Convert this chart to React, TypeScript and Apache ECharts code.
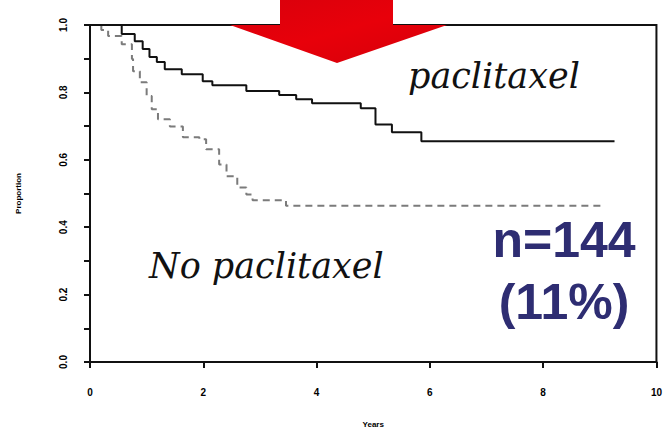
import React, { useEffect, useRef } from "react";
import * as echarts from "echarts";

// Kaplan–Meier step points: time in years, proportion surviving from that time on
const paclitaxelYears = [0, 0.56, 0.79, 0.93, 1.05, 1.18, 1.32, 1.62, 1.99, 2.16, 2.76, 3.34, 3.64, 3.92, 4.78, 5.04, 5.33, 5.85, 9.26];
const paclitaxelProp = [1.0, 0.973, 0.952, 0.929, 0.905, 0.89, 0.869, 0.854, 0.833, 0.821, 0.804, 0.792, 0.78, 0.768, 0.753, 0.705, 0.682, 0.655, 0.655];

const noPaclitaxelYears = [0, 0.2, 0.32, 0.56, 0.74, 0.76, 0.88, 1.0, 1.09, 1.2, 1.41, 1.64, 1.93, 2.05, 2.28, 2.41, 2.6, 2.76, 2.87, 3.46, 9.05];
const noPaclitaxelProp = [1.0, 0.985, 0.967, 0.943, 0.899, 0.863, 0.83, 0.789, 0.75, 0.72, 0.699, 0.667, 0.661, 0.631, 0.586, 0.551, 0.518, 0.497, 0.48, 0.464, 0.464];

const xTicks = [0, 2, 4, 6, 8, 10];
const yTicks = [0, 0.2, 0.4, 0.6, 0.8, 1.0];

const curveLabels = ["paclitaxel", "No paclitaxel"];
const countLines = ["n=144", "(11%)"];

const pairs = (xs: number[], ys: number[]) => xs.map((x, i) => [x, ys[i]]);

export default function App() {
  const ref = useRef<HTMLDivElement>(null);

  useEffect(() => {
    if (!ref.current) return;
    const chart = echarts.init(ref.current, null, { renderer: "svg" });
    const tickFont = {
      fontFamily: "Liberation Sans, Arial, sans-serif",
      fontWeight: "bold" as const,
      fontSize: 10,
      color: "#000",
    };
    chart.setOption({
      animation: false,
      backgroundColor: "#ffffff",
      grid: {
        left: 90,
        right: 5,
        top: 25,
        bottom: 71,
        show: true,
        borderColor: "#111",
        borderWidth: 2,
      },
      xAxis: {
        type: "value",
        min: xTicks[0],
        max: xTicks[xTicks.length - 1],
        interval: 2,
        name: "Years",
        nameLocation: "middle",
        nameGap: 58,
        nameTextStyle: { ...tickFont, fontSize: 8 },
        axisLine: { show: true, onZero: false, lineStyle: { color: "#111", width: 2 } },
        axisTick: { show: true, length: 6, lineStyle: { color: "#111", width: 2 } },
        axisLabel: { ...tickFont, margin: 25, formatter: (v: number) => String(v) },
        splitLine: { show: false },
      },
      yAxis: {
        type: "value",
        min: yTicks[0],
        max: yTicks[yTicks.length - 1],
        interval: 0.2,
        name: "Proportion",
        nameLocation: "middle",
        nameGap: 68,
        nameRotate: 90,
        nameTextStyle: { ...tickFont, fontSize: 8 },
        axisLine: { show: true, onZero: false, lineStyle: { color: "#111", width: 2 } },
        axisTick: { show: true, length: 6, lineStyle: { color: "#111", width: 2 } },
        minorTick: { show: true, splitNumber: 2, length: 6, lineStyle: { color: "#111", width: 2 } },
        axisLabel: {
          ...tickFont,
          rotate: 90,
          margin: 22,
          formatter: (v: number) => v.toFixed(1),
        },
        splitLine: { show: false },
        minorSplitLine: { show: false },
      },
      series: [
        {
          name: "No paclitaxel",
          type: "line",
          step: "end",
          data: pairs(noPaclitaxelYears, noPaclitaxelProp),
          showSymbol: false,
          lineStyle: { color: "#7b7b7b", width: 2, type: [7, 5] },
          z: 3,
        },
        {
          name: "paclitaxel",
          type: "line",
          step: "end",
          data: pairs(paclitaxelYears, paclitaxelProp),
          showSymbol: false,
          lineStyle: { color: "#111", width: 2 },
          z: 4,
        },
      ],
      graphic: [
        {
          type: "polygon",
          z: 100,
          shape: {
            points: [
              [280, 0],
              [393, 0],
              [393, 25],
              [447, 25],
              [337, 63],
              [230, 25],
              [280, 25],
            ],
          },
          style: {
            fill: new echarts.graphic.LinearGradient(0, 0, 1, 1, [
              { offset: 0, color: "#d8000c" },
              { offset: 0.5, color: "#e8000a" },
              { offset: 1, color: "#d4000a" },
            ]),
          },
        },
        {
          type: "text",
          z: 100,
          left: 408,
          top: 58,
          style: {
            text: curveLabels[0],
            font: "italic 35px 'DejaVu Serif', serif",
            fill: "#111",
          },
        },
        {
          type: "text",
          z: 100,
          left: 149,
          top: 248,
          style: {
            text: curveLabels[1],
            font: "italic 35px 'DejaVu Serif', serif",
            fill: "#111",
          },
        },
        {
          type: "text",
          z: 100,
          x: 564,
          y: 240,
          style: {
            text: countLines[0],
            font: "bold 50px 'Liberation Sans', Arial, sans-serif",
            fill: "#2e2d72",
            align: "center",
            verticalAlign: "middle",
          },
        },
        {
          type: "text",
          z: 100,
          x: 564,
          y: 302,
          style: {
            text: countLines[1],
            font: "bold 50px 'Liberation Sans', Arial, sans-serif",
            fill: "#2e2d72",
            align: "center",
            verticalAlign: "middle",
          },
        },
      ],
    });
    return () => chart.dispose();
  }, []);

  return (
    <div
      ref={ref}
      style={{ position: "fixed", left: 0, top: 0, width: 665, height: 433, background: "#fff" }}
    />
  );
}
